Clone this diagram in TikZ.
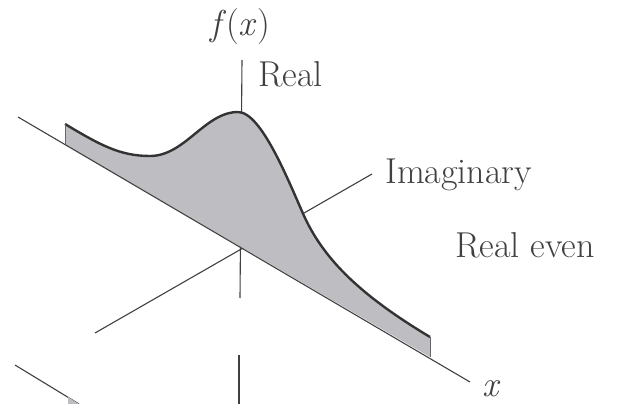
\documentclass[tikz,border=0pt]{standalone}
\begin{document}
\begin{tikzpicture}[x=1pt,y=-1pt,
  axisline/.style={line width=1.1pt, draw=black!75},
  curveline/.style={line width=2.4pt, draw=black!80, line join=round},
  shade/.style={fill={rgb,255:red,190;green,190;blue,194}},
  lbl/.style={inner sep=0pt, anchor=base west, text=black!75, font=\fontsize{36}{42}\selectfont}]
\useasboundingbox (0,0) rectangle (625,404);
% axis end points
\coordinate (xl) at (18,117);
\coordinate (xr) at (470,382);
\coordinate (o) at (240,248);
\coordinate (vt) at (242,60);
\coordinate (vb) at (240,298);
\coordinate (il) at (95,333);
\coordinate (ir) at (372,174);
\coordinate (cl) at (65,124);
\coordinate (cr) at (430,337);
\coordinate (al) at (65,144.5);
\coordinate (ar) at (430,357);
% axes behind
\draw[axisline] (vt) -- (vb);
\draw[axisline] (il) -- (ir);
% filled curve
\fill[shade] (cl) .. controls (100,145) and (120,156) .. (150,156)
  .. controls (185,156) and (205,112) .. (238,112)
  .. controls (262,112) and (290,185) .. (305,218)
  .. controls (325,260) and (360,295) .. (cr) -- (ar) -- (al) -- cycle;
\draw[axisline] (xl) -- (xr);
\draw[curveline] (cl) .. controls (100,145) and (120,156) .. (150,156)
  .. controls (185,156) and (205,112) .. (238,112)
  .. controls (262,112) and (290,185) .. (305,218)
  .. controls (325,260) and (360,295) .. (cr);
\draw[line width=0.8pt, draw=black!60] (cl) -- (al);
\draw[line width=0.8pt, draw=black!60] (cr) -- (ar);
% labels
\node[lbl] (fx) at (210,36) {\textit{f}(\textit{x})};
\node[lbl] (re) at (258,87) {Real};
\node[lbl] (im) at (385,183) {Imaginary};
\node[lbl] (rev) at (455,258) {Real even};
\node[lbl] (xx) at (482,396) {\textit{x}};
% next panel, cropped
\coordinate (v2t) at (239,355);
\coordinate (v2b) at (239,404);
\coordinate (d2t) at (15,365);
\coordinate (d2b) at (79,404);
\draw[axisline] (v2t) -- (v2b);
\draw[axisline] (d2t) -- (d2b);
\fill[shade] (68,404) -- (68,397) -- (79,404) -- cycle;
\end{tikzpicture}
\end{document}
